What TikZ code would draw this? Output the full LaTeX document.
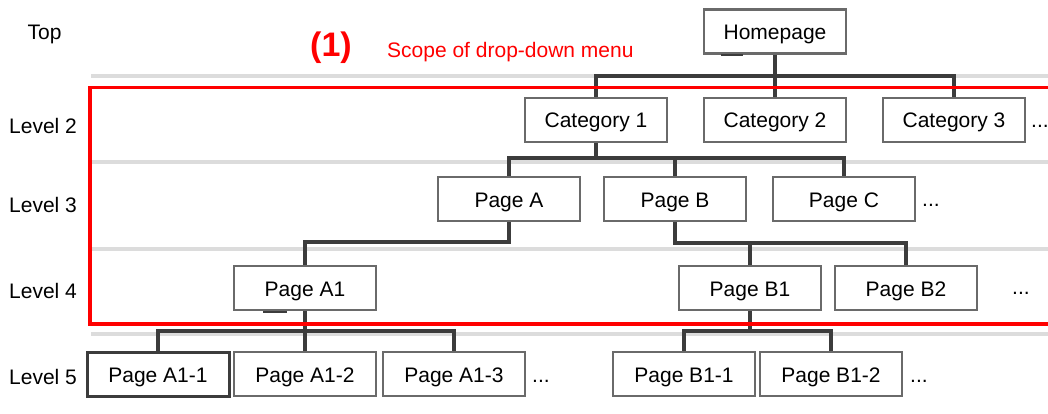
\documentclass[tikz,border=0pt]{standalone}
\usepackage{fontspec}
\setmainfont{Liberation Sans}
\definecolor{boxgray}{HTML}{6A6A6A}
\definecolor{conngray}{HTML}{3C3C3C}
\definecolor{bandgray}{HTML}{DCDCDC}
\definecolor{scopered}{HTML}{FF0000}
\begin{document}
\begin{tikzpicture}[x=1pt,y=-1pt,
  pagebox/.style={draw=boxgray,line width=2.2pt,fill=white,minimum width=142pt,minimum height=44pt,inner sep=0pt,text height=16pt,text depth=0pt,font=\fontsize{21}{25}\selectfont},
  darkbox/.style={pagebox,draw=conngray,line width=3pt},
  conn/.style={draw=conngray,line width=3.5pt,line join=miter},
  band/.style={draw=bandgray,line width=4pt},
  lvl/.style={anchor=base west,inner sep=0pt,font=\fontsize{21}{25}\selectfont},
  more/.style={anchor=base west,inner sep=0pt,font=\fontsize{21}{25}\selectfont},
  redtxt/.style={anchor=base west,inner sep=0pt,text=scopered}
]
\useasboundingbox (0,0) rectangle (1048,414);
\fill[white] (0,0) rectangle (1048,414);

% grey level separators
\draw[band] (91,76) -- (1048,76);
\draw[band] (91,162) -- (1048,162);
\draw[band] (91,249) -- (1048,249);
\draw[band] (91,334) -- (1048,334);

% level labels
\node[anchor=base,inner sep=0pt,font=\fontsize{21}{25}\selectfont] (ltop) at (44.5,40) {Top};
\node[lvl] (l2) at (9,134) {Level 2};
\node[lvl] (l3) at (9,212) {Level 3};
\node[lvl] (l4) at (9,298) {Level 4};
\node[lvl] (l5) at (9,384) {Level 5};

% scope title
\node[redtxt,font=\fontsize{34}{40}\selectfont\bfseries] (one) at (310,57) {(1)};
\node[redtxt,font=\fontsize{21}{25}\selectfont] (scope) at (387,58) {Scope of drop-down menu};

% bus coordinates
\coordinate (bus1) at (0,76);
\coordinate (bus2) at (0,158);
\coordinate (bus3a) at (0,242);
\coordinate (bus3b) at (0,243);
\coordinate (bus4) at (0,331);

% nodes
\node[pagebox] (home) at (775,31.5) {Homepage};
\node[pagebox] (cat1) at (596,120) {Category 1};
\node[pagebox] (cat2) at (775,120) {Category 2};
\node[pagebox] (cat3) at (954,120) {Category 3};
\node[pagebox] (pa) at (509,199) {Page A};
\node[pagebox] (pb) at (675,199) {Page B};
\node[pagebox] (pc) at (844,199) {Page C};
\node[pagebox] (a1) at (305,288) {Page A1};
\node[pagebox] (b1) at (750,288) {Page B1};
\node[pagebox] (b2) at (906,288) {Page B2};
\node[darkbox] (a11) at (158,374) {Page A1-1};
\node[pagebox] (a12) at (305,374) {Page A1-2};
\node[pagebox] (a13) at (454,374) {Page A1-3};
\node[pagebox] (b11) at (684,374) {Page B1-1};
\node[pagebox] (b12) at (831,374) {Page B1-2};

% ellipses
\node[more] (m1) at (1031,128) {...};
\node[more] (m2) at (922,206) {...};
\node[more] (m3) at (1012,294) {...};
\node[more] (m4) at (532,382) {...};
\node[more] (m5) at (910,382) {...};

% connectors
\draw[conn] (home.south) -- (home.south |- bus1);
\draw[conn] (cat1.north) |- (cat3.north |- bus1) -- (cat3.north);
\draw[conn] (cat2.north) -- (cat2.north |- bus1);

\draw[conn] (cat1.south) -- (cat1.south |- bus2);
\draw[conn] (pa.north) |- (pc.north |- bus2) -- (pc.north);
\draw[conn] (pb.north) -- (pb.north |- bus2);

\draw[conn] (pa.south) |- (a1.north |- bus3a) -- (a1.north);
\draw[conn] (pb.south) |- (b2.north |- bus3b) -- (b2.north);
\draw[conn] (b1.north) -- (b1.north |- bus3b);

\draw[conn] (a1.south) -- (a1.south |- bus4);
\draw[conn] (a11.north) |- (a13.north |- bus4) -- (a13.north);
\draw[conn] (a12.north) -- (a12.north |- bus4);

\draw[conn] (b1.south) -- (b1.south |- bus4);
\draw[conn] (b11.north) |- (b12.north |- bus4) -- (b12.north);

% small marks under boxes
\draw[conngray,line width=2pt] (721,55) -- (743,55);
\draw[conngray,line width=2pt] (263,311.5) -- (287,311.5);

% scope of drop-down menu
\draw[scopered,line width=3.5pt] (1048,87.5) -- (90,87.5) -- (90,324) -- (1048,324);
\end{tikzpicture}
\end{document}
